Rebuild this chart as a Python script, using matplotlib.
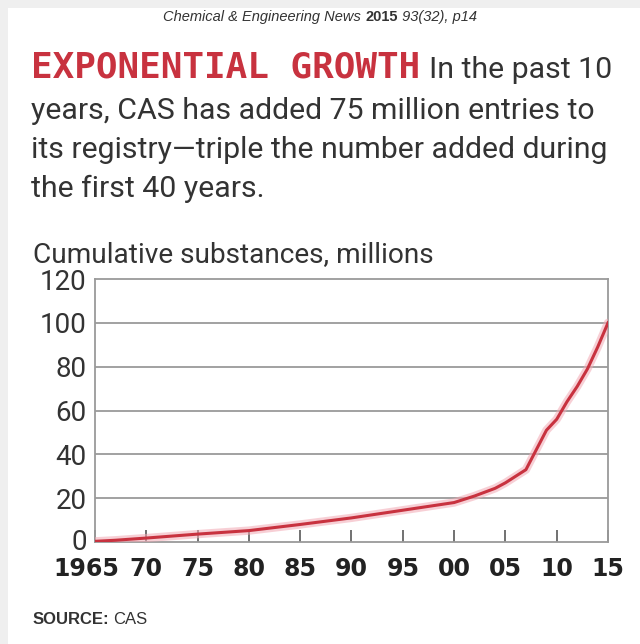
import matplotlib
matplotlib.use("Agg")
from matplotlib import pyplot as plt
from matplotlib.patches import Rectangle
from matplotlib.transforms import ScaledTranslation

# CAS registry, cumulative substances (millions)
years = [1965, 1967, 1970, 1975, 1980, 1985, 1990, 1995, 2000, 2002, 2004,
         2005, 2006, 2007, 2008, 2009, 2010, 2011, 2012, 2013, 2014, 2015]
substances = [0.3, 0.8, 1.8, 3.6, 5.2, 8.0, 11.0, 14.5, 18.0, 21.0, 24.5,
              27.0, 30.0, 33.0, 42.0, 51.0, 56.0, 64.0, 71.0, 79.0, 89.0, 100.0]
x_ticks = [1965, 1970, 1975, 1980, 1985, 1990, 1995, 2000, 2005, 2010, 2015]
x_labels = ["1965", "70", "75", "80", "85", "90", "95", "00", "05", "10", "15"]
y_ticks = [0, 20, 40, 60, 80, 100, 120]

W, H = 640, 644
body_font = ["Roboto", "DejaVu Sans"]
dark = "#333333"
red = "#c8323f"

fig = plt.figure(figsize=(W / 100, H / 100), dpi=100)
fig.patch.set_facecolor("#efefef")
fig.patches.append(Rectangle((8 / W, 0), 1, 1 - 8 / H, transform=fig.transFigure,
                             facecolor="white", edgecolor="none", zorder=-10))
renderer = fig.canvas.get_renderer()


def px(x, y):
    return x / W, 1 - y / H


def fit(t, width):
    # scale font so the text spans `width` pixels
    w = t.get_window_extent(renderer).width
    t.set_fontsize(t.get_fontsize() * width / w)
    return t


def right_of(t, gap=0):
    bb = t.get_window_extent(renderer)
    return (bb.x1 + gap) / W


def nudge(t, dx, dy):
    t.set_transform(t.get_transform() +
                    ScaledTranslation(dx / 100, dy / 100, fig.dpi_scale_trans))


# citation line at the top
y0 = 1 - 21 / H
parts = [("Chemical & Engineering News ", "italic", "normal"),
         ("2015", "normal", "bold"),
         (" 93(32), p14", "italic", "normal")]
pieces = []
x = 0
for s, st, wt in parts:
    t = fig.text(x, y0, s, fontsize=10.5, style=st, weight=wt, color=dark,
                 family=["Liberation Sans", "DejaVu Sans"], va="baseline")
    pieces.append(t)
    x = right_of(t)
total = x
shift = 0.5 - total / 2
for t in pieces:
    t.set_x(t.get_position()[0] + shift)

# heading and blurb
head = fig.text(*px(31, 78), "EXPONENTIAL GROWTH", color=red, weight="bold",
                family=["DejaVu Sans Mono"], fontsize=20, va="baseline")
fit(head, 390)
line3 = fig.text(*px(31, 158), "its registry\u2014triple the number added during",
                 color=dark, family=body_font, fontsize=20, va="baseline")
fit(line3, 574)
fs = line3.get_fontsize()
fig.text(right_of(head, 9), 1 - 78 / H, "In the past 10", color=dark,
         family=body_font, fontsize=fs, va="baseline")
fig.text(*px(31, 119), "years, CAS has added 75 million entries to",
         color=dark, family=body_font, fontsize=fs, va="baseline")
fig.text(*px(31, 197), "the first 40 years.", color=dark, family=body_font,
         fontsize=fs, va="baseline")

fig.text(*px(33, 262), "Cumulative substances, millions", color=dark,
         family=body_font, fontsize=fs * 0.93, va="baseline")

# chart
ax = fig.add_axes([95 / W, 1 - 542 / H, 513 / W, 263 / H])
ax.set_facecolor("white")
ax.plot(years, substances, color="#f2a9b4", lw=6, alpha=0.55,
        solid_capstyle="round", zorder=3)
ax.plot(years, substances, color=red, lw=2.2, zorder=4)
ax.set_xlim(1965, 2015)
ax.set_ylim(0, 120)
ax.set_xticks(x_ticks)
ax.set_xticklabels(x_labels)
ax.set_yticks(y_ticks)
for v in y_ticks[1:-1]:
    ax.axhline(v, color="#9a9a9a", lw=1.3, zorder=1)
for sp in ax.spines.values():
    sp.set_color("#9a9a9a")
    sp.set_linewidth(1.3)
ax.tick_params(axis="x", direction="in", length=9, width=1.3, color="#666666",
               pad=11, labelsize=17, labelcolor="#222222")
ax.tick_params(axis="y", length=0, pad=6, labelsize=18, labelcolor=dark)
for lab in ax.get_xticklabels():
    lab.set_fontweight("bold")
    lab.set_family("DejaVu Sans")
# squeeze "1965" left so it only just touches "70", as in the print
nudge(ax.get_xticklabels()[0], -9, 0)
for lab in ax.get_yticklabels():
    lab.set_family(body_font)
    lab.set_fontsize(20)
nudge(ax.get_yticklabels()[0], 0, 3)

src = fig.text(*px(33, 624), "SOURCE:", weight="bold", color=dark,
               family=["Liberation Sans"], fontsize=12, va="baseline")
fig.text(right_of(src, 4), 1 - 624 / H, "CAS", color=dark,
         family=["Liberation Sans"], fontsize=12, va="baseline")

fig.savefig("out.png", dpi=100)
